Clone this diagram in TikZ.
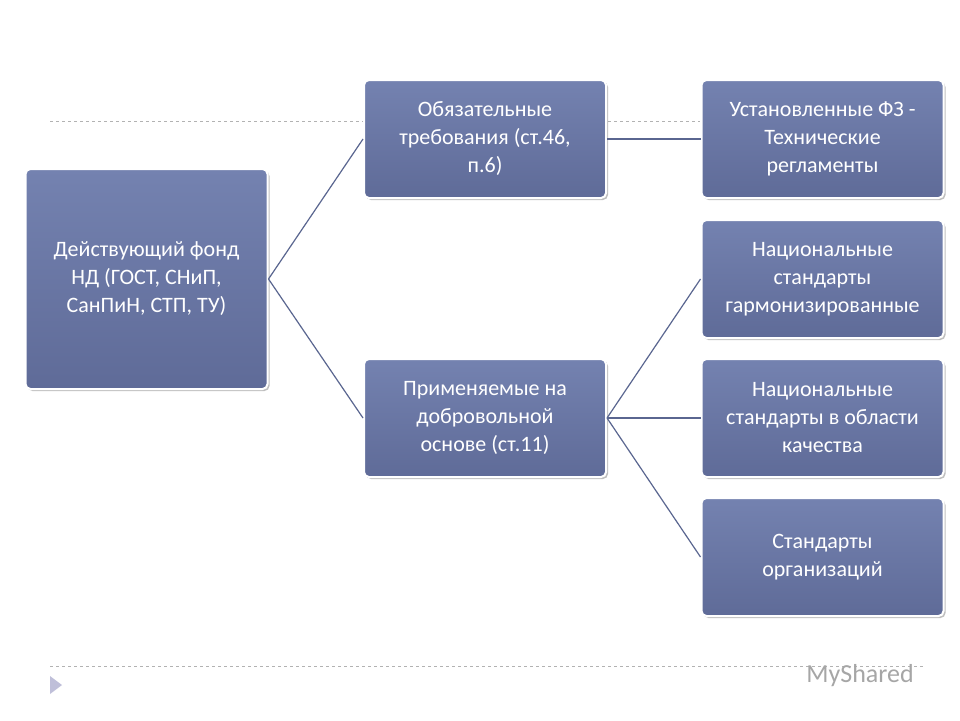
\documentclass[tikz,border=0pt]{standalone}
\usepackage{fontspec}
\setmainfont{Carlito}
\usetikzlibrary{shadows}
\definecolor{boxc}{HTML}{7482B0}
\definecolor{boxd}{HTML}{5F6B98}
\definecolor{linec}{HTML}{5A6690}
\begin{document}
\begin{tikzpicture}[x=1pt,y=-1pt,
  bx/.style={draw=white,line width=2pt,rounded corners=5pt,top color=boxc,bottom color=boxd,
    text=white,align=center,font=\fontsize{22}{28}\selectfont,minimum width=242pt,
    drop shadow={opacity=0.5,shadow xshift=2pt,shadow yshift=-2pt},inner sep=3pt},
  conn/.style={draw=linec,line width=1.2pt}]
\useasboundingbox (0,0) rectangle (960,720);
\fill[white] (0,0) rectangle (960,720);
\draw[gray!60,dashed] (50,121) -- (700,121);
\draw[gray!60,dashed] (50,666) -- (925,666);
\fill[blue!25!gray!40] (50,676) -- (62,685) -- (50,694) -- cycle;
\node[text=gray!70,font=\fontsize{26}{28}\selectfont] (logo) at (860,676) {MyShared};
\node[bx,minimum width=242pt,minimum height=220pt] (a) at (146.5,279) {Действующий фонд\\НД (ГОСТ, СНиП,\\СанПиН, СТП, ТУ)};
\node[bx,minimum height=118pt] (b) at (485,139) {Обязательные\\требования (ст.46,\\п.6)};
\node[bx,minimum height=118pt] (c) at (485,418) {Применяемые на\\добровольной\\основе (ст.11)};
\node[bx,minimum height=118pt] (d) at (822.5,139) {Установленные ФЗ -\\Технические\\регламенты};
\node[bx,minimum height=118pt] (e) at (822.5,279) {Национальные\\стандарты\\гармонизированные};
\node[bx,minimum height=118pt] (f) at (822.5,418) {Национальные\\стандарты в области\\качества};
\node[bx,minimum height=118pt] (g) at (822.5,557) {Стандарты\\организаций};
\draw[conn] (a.east) -- (b.west);
\draw[conn] (a.east) -- (c.west);
\draw[conn] (b.east) -- (d.west);
\draw[conn] (c.east) -- (e.west);
\draw[conn] (c.east) -- (f.west);
\draw[conn] (c.east) -- (g.west);
\end{tikzpicture}
\end{document}
